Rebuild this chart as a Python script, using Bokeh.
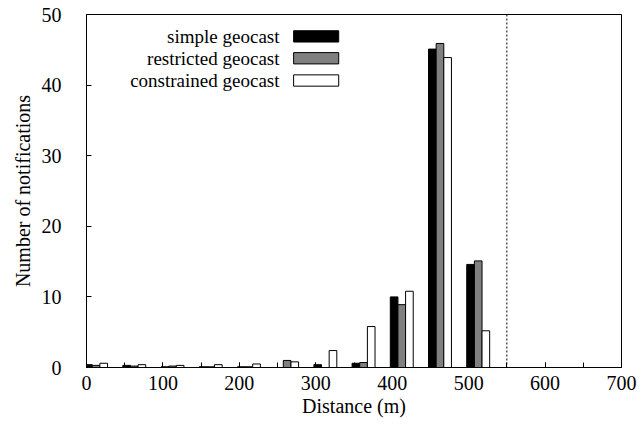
from bokeh.plotting import figure
from bokeh.models import Range1d, SingleIntervalTicker, Span, ColumnDataSource
from bokeh.transform import dodge
from bokeh.core.properties import value
from bokeh.embed import file_html
from bokeh.resources import INLINE

# ---- data ----
distances = [0, 50, 100, 150, 200, 250, 300, 350, 400, 450, 500]
simple = [0.4, 0.3, 0.1, 0.1, 0.1, 0.0, 0.4, 0.6, 10.0, 45.1, 14.6]
restricted = [0.3, 0.2, 0.2, 0.1, 0.1, 1.0, 0.0, 0.7, 8.9, 45.9, 15.1]
constrained = [0.6, 0.4, 0.3, 0.4, 0.5, 0.8, 2.4, 5.8, 10.8, 43.9, 5.2]

series_names = ["simple geocast", "restricted geocast", "constrained geocast"]
series_fill = ["black", "#808080", "white"]
series_offset = [2.5, 12.5, 22.5]
bar_width = 10

range_line = 550
x_ticks_interval = 100
y_ticks_interval = 10

FONT = "Liberation Serif"
FS = "20px"

src = ColumnDataSource(dict(d=distances, s0=simple, s1=restricted, s2=constrained))

p = figure(width=641, height=426, output_backend="svg", toolbar_location=None,
           x_range=Range1d(0, 700), y_range=Range1d(0, 50),
           min_border_left=86, min_border_right=20, min_border_top=14, min_border_bottom=59)
p.background_fill_color = "white"
p.border_fill_color = "white"
p.grid.visible = False
p.outline_line_color = "black"
p.outline_line_width = 1
p.outline_line_alpha = 1

for i, col in enumerate(["s0", "s1", "s2"]):
    p.vbar(x=dodge("d", series_offset[i], range=p.x_range), top=col, bottom=0,
           width=bar_width, source=src, fill_color=series_fill[i],
           line_color="black", line_width=1)

p.add_layout(Span(location=range_line, dimension="height", line_color="black",
                  line_width=1, line_dash="2 2"))

# axes
xa = p.xaxis[0]
xa.ticker = SingleIntervalTicker(interval=x_ticks_interval, num_minor_ticks=2)
ya = p.yaxis[0]
ya.ticker = SingleIntervalTicker(interval=y_ticks_interval, num_minor_ticks=0)
for ax in (xa, ya):
    ax.major_tick_in = 5
    ax.major_tick_out = 0
    ax.minor_tick_in = 5
    ax.minor_tick_out = 0
    ax.axis_line_color = "black"
    ax.major_tick_line_color = "black"
    ax.minor_tick_line_color = "black"
    ax.major_label_text_font = FONT
    ax.major_label_text_font_size = FS
    ax.major_label_text_color = "black"
    ax.axis_label_text_font = FONT
    ax.axis_label_text_font_size = FS
    ax.axis_label_text_font_style = "normal"
    ax.axis_label_text_color = "black"
xa.axis_label = "Distance (m)"
ya.axis_label = "Number of notifications"
xa.major_label_standoff = 8
xa.axis_label_standoff = 2
ya.major_label_standoff = 25
ya.axis_label_standoff = 5

# legend (label left of swatch, as in the original)
leg_text_x = 252.5
leg_sw_left = 271
leg_sw_right = 330
leg_y = [46.9, 43.8, 40.65]
leg_half_h = 0.8
for i in range(3):
    p.quad(left=[leg_sw_left], right=[leg_sw_right], bottom=[leg_y[i] - leg_half_h],
           top=[leg_y[i] + leg_half_h], fill_color=series_fill[i], line_color="black", line_width=1)
p.text(x=[leg_text_x] * 3, y=leg_y, text=series_names, text_align="right",
       text_baseline="middle", text_font=value(FONT), text_font_size="19px", text_color="black")

open("out.html", "w").write(file_html(p, INLINE))
